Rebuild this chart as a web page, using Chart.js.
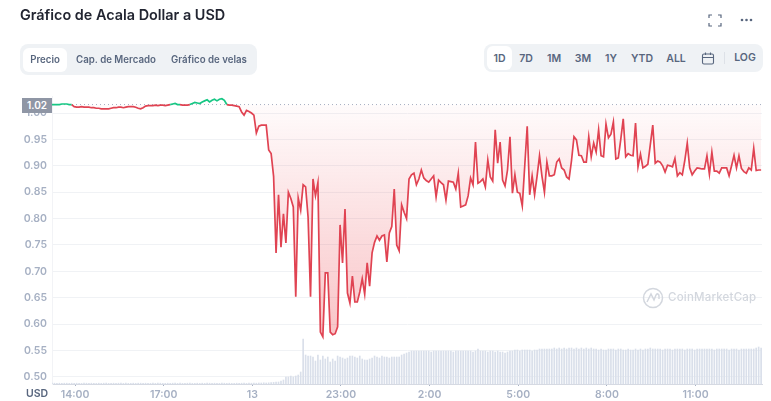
<!DOCTYPE html>
<html lang="es">
<head>
<meta charset="utf-8">
<title>Gráfico de Acala Dollar a USD</title>
<script src="https://cdn.jsdelivr.net/npm/chart.js@4/dist/chart.umd.min.js"></script>
<style>
    html, body { margin: 0; padding: 0; background: #fff; overflow: hidden; }
    body { width: 771px; height: 401px; position: relative; font-family: Inter, "Noto Sans", sans-serif; }
    #chart { position: absolute; left: 0; top: 0; }
    .abs { position: absolute; white-space: nowrap; }
    #title { left: 20px; top: 6px; font-size: 14.4px; line-height: 18px; font-weight: 600; color: #222531; }
    .bar { background: #eff2f5; border-radius: 8px; }
    .btn { transform: translateX(-50%); font-size: 10.5px; font-weight: 600; color: #58667e; line-height: 14px; }
    .tab { font-size: 9.7px; }
    .active { background: #fff; border-radius: 6px; }
    #lastPrice { left: 22px; top: 98px; width: 30px; height: 15px; background: #8f96a5; color: #fff; font-size: 10px; font-weight: 600; line-height: 15px; text-align: center; }
    #usd { left: 26px; top: 387px; font-size: 10.5px; font-weight: 600; color: #58667e; line-height: 13px; }
    #watermark { left: 642px; top: 287px; }
    #wmText { left: 668px; top: 289px; font-size: 11.5px; line-height: 17px; font-weight: 500; letter-spacing: .2px; color: #d3d7de; }
</style>
</head>
<body>
<canvas id="chart" width="771" height="401"></canvas>

<div id="title" class="abs">Gráfico de Acala Dollar a USD</div>

<svg class="abs" style="left:708px;top:14px" width="14" height="13" fill="none" stroke="#58667e" stroke-width="1.2">
    <path d="M1 4V1h3M10 1h3v3M13 9v3h-3M4 12H1V9"/>
</svg>
<svg class="abs" style="left:740px;top:18px" width="13" height="4" fill="#58667e">
    <circle cx="2" cy="2" r="1.3"/><circle cx="6.5" cy="2" r="1.3"/><circle cx="11" cy="2" r="1.3"/>
</svg>

<div class="abs bar" style="left:20px;top:44px;width:237px;height:31px"></div>
<div class="abs active" style="left:23px;top:48px;width:44px;height:24px"></div>
<div class="abs btn tab" style="left:45px;top:53px">Precio</div>
<div class="abs btn tab" style="left:116px;top:53px">Cap. de Mercado</div>
<div class="abs btn tab" style="left:209px;top:53px">Gráfico de velas</div>

<div class="abs bar" style="left:484px;top:44px;width:279px;height:28px"></div>
<div class="abs active" style="left:487px;top:46px;width:25px;height:24px"></div>
<div class="abs btn" style="left:499.5px;top:52px">1D</div>
<div class="abs btn" style="left:526px;top:52px">7D</div>
<div class="abs btn" style="left:554px;top:52px">1M</div>
<div class="abs btn" style="left:583px;top:52px">3M</div>
<div class="abs btn" style="left:611px;top:52px">1Y</div>
<div class="abs btn" style="left:642px;top:52px">YTD</div>
<div class="abs btn" style="left:676px;top:52px">ALL</div>
<svg class="abs" style="left:701px;top:52px" width="14" height="13" fill="none" stroke="#58667e" stroke-width="1.1">
    <rect x="1.5" y="2" width="11" height="10" rx="1.5"/><path d="M1.5 5.5h11M4.5 0.5v2.5M9.500 0.5v2.500"/>
</svg>
<div class="abs" style="left:724px;top:52px;width:1px;height:12px;background:#dde1e7"></div>
<div class="abs btn" style="left:745px;top:51px">LOG</div>

<svg id="watermark" class="abs" width="22" height="22" fill="none" stroke="#d3d7de" stroke-width="1.5">
    <circle cx="11" cy="11" r="9.500"/>
    <path d="M5 15l4-8 3 6 2-5c1-2 3-1 3 1v3"/>
</svg>
<div id="wmText" class="abs">CoinMarketCap</div>

<div id="lastPrice" class="abs">1.02</div>
<div id="usd" class="abs">USD</div>

<script>
// one value every 5 minutes
const startHour = 13.22;
const stepHours = 5 / 60;
const openPrice = 1.016;

const prices = [
    1.016,1.016,1.016,1.016,1.017,1.017,1.017,1.016,1.016,1.012,
    1.011,1.011,1.012,1.011,1.011,1.011,1.010,1.010,1.009,1.009,
    1.008,1.008,1.008,1.008,1.009,1.010,1.010,1.011,1.011,1.010,
    1.011,1.012,1.012,1.012,1.011,1.009,1.008,1.010,1.013,1.014,
    1.014,1.014,1.015,1.014,1.015,1.015,1.014,1.015,1.016,1.017,
    1.018,1.016,1.016,1.015,1.015,1.015,1.016,1.018,1.020,1.019,
    1.018,1.021,1.023,1.025,1.021,1.024,1.026,1.023,1.026,1.027,
    1.024,1.016,1.015,1.015,1.014,1.013,1.012,1.002,0.996,1.005,
    1.003,1.000,0.996,0.962,0.975,0.977,0.977,0.977,0.930,0.923,
    0.880,0.735,0.845,0.746,0.809,0.754,0.850,0.838,0.822,0.652,
    0.839,0.816,0.864,0.860,0.803,0.652,0.875,0.843,0.868,0.585,
    0.576,0.697,0.697,0.585,0.580,0.582,0.595,0.788,0.716,0.818,
    0.659,0.640,0.691,0.642,0.642,0.661,0.686,0.657,0.716,0.672,
    0.735,0.755,0.767,0.759,0.767,0.769,0.718,0.773,0.785,0.856,
    0.750,0.739,0.826,0.812,0.800,0.875,0.883,0.886,0.864,0.875,
    0.892,0.877,0.872,0.869,0.875,0.881,0.841,0.873,0.868,0.864,
    0.835,0.871,0.870,0.869,0.856,0.886,0.822,0.824,0.826,0.843,
    0.877,0.864,0.945,0.867,0.870,0.875,0.860,0.911,0.879,0.871,
    0.968,0.905,0.945,0.873,0.862,0.892,0.955,0.848,0.883,0.850,
    0.848,0.824,0.900,0.975,0.845,0.881,0.845,0.880,0.919,0.880,
    0.850,0.907,0.881,0.881,0.883,0.907,0.913,0.896,0.892,0.879,
    0.875,0.910,0.955,0.949,0.920,0.919,0.907,0.907,0.955,0.917,
    0.943,0.926,0.968,0.919,0.917,0.979,0.953,0.960,0.983,0.913,
    0.915,0.950,0.989,0.917,0.923,0.920,0.919,0.981,0.898,0.922,
    0.896,0.899,0.903,0.940,0.977,0.905,0.909,0.907,0.900,0.888,
    0.901,0.900,0.898,0.914,0.881,0.887,0.883,0.910,0.943,0.896,
    0.883,0.890,0.896,0.895,0.894,0.894,0.919,0.884,0.926,0.890,
    0.890,0.886,0.896,0.896,0.896,0.881,0.900,0.920,0.896,0.919,
    0.895,0.889,0.886,0.896,0.892,0.933,0.891,0.892,0.892
];

const volumes = [
    0.4,0.4,0.3,0.4,0.3,0.4,0.4,0.3,0.4,0.3,
    0.4,0.3,0.3,0.4,0.4,0.3,0.4,0.3,0.3,0.4,
    0.3,0.4,0.4,0.3,0.3,0.4,0.3,0.4,0.4,0.3,
    0.4,0.3,0.3,0.4,0.3,0.4,0.4,0.3,0.4,0.3,
    0.3,0.4,0.3,0.4,0.4,0.3,0.3,0.4,0.3,0.4,
    0.4,0.3,0.4,0.3,0.3,0.4,0.4,0.3,0.3,0.4,
    0.3,0.4,0.3,0.4,0.4,0.3,0.4,0.3,0.3,0.4,
    0.4,0.3,0.4,0.3,0.3,0.4,0.3,0.4,0.4,0.3,
    0.4,0.4,0.5,0.4,0.5,0.5,0.6,0.5,0.6,0.7,
    0.8,0.9,1.0,1.5,2.0,3.5,3.5,4.0,3.5,4.0,
    4.5,6.0,22.5,14.5,14.0,14.0,13.5,11.5,14.5,12.0,
    14.0,12.5,13.5,11.0,12.5,11.5,14.0,13.5,13.0,12.5,
    13.0,14.0,14.0,13.5,13.0,14.0,12.5,12.0,12.0,12.5,
    13.0,14.0,13.5,13.0,14.0,13.5,13.5,13.0,13.5,13.5,
    13.5,13.5,14.5,15.0,15.5,16.0,16.5,16.5,16.5,16.5,
    16.5,16.5,16.5,16.5,16.0,16.5,16.5,16.5,16.5,16.5,
    16.5,16.5,16.5,16.0,16.5,16.5,16.5,16.5,16.5,16.5,
    16.5,16.0,16.5,17.5,16.5,16.5,16.5,16.0,16.5,16.5,
    16.0,16.5,16.0,16.0,15.5,16.0,16.5,16.5,17.0,17.0,
    16.5,17.0,17.0,17.0,17.0,16.5,17.0,17.0,17.5,17.5,
    17.5,17.5,17.5,17.5,18.0,17.5,18.0,17.5,18.0,17.5,
    18.0,18.0,17.5,18.0,17.5,18.0,17.5,18.0,17.5,18.0,
    17.5,17.5,17.0,17.5,17.0,17.0,17.5,17.5,17.5,17.0,
    17.5,17.5,17.0,17.0,17.5,17.0,17.0,17.5,17.0,17.5,
    17.0,17.5,17.5,18.0,17.5,17.5,17.5,17.5,17.0,17.5,
    17.5,17.5,17.0,17.5,17.5,17.5,17.5,17.0,17.5,17.5,
    17.5,17.0,17.5,17.5,17.5,17.5,17.5,17.5,17.5,17.0,
    17.5,17.5,17.5,17.5,17.5,17.0,17.5,17.5,17.5,17.0,
    17.5,17.5,17.5,17.5,17.5,17.5,18.0,18.5,18.0
];

const yTicks = [0.50, 0.55, 0.60, 0.65, 0.70, 0.75, 0.80, 0.85, 0.90, 0.95, 1.00];
const xTickHours = [14, 17, 20, 23, 26, 29, 32, 35];
const xTickLabels = ['14:00', '17:00', '13', '23:00', '2:00', '5:00', '8:00', '11:00'];

const hourAt = i => startHour + i * stepHours;

const canvas = document.getElementById('chart');
const ctx = canvas.getContext('2d');

const redFill = ctx.createLinearGradient(0, 105, 0, 340);
redFill.addColorStop(0, 'rgba(234, 57, 67, 0.02)');
redFill.addColorStop(1, 'rgba(234, 57, 67, 0.30)');

new Chart(ctx, {
    data: {
        datasets: [
            { // precio
                type: 'line',
                data: prices.map((p, i) => ({ x: hourAt(i), y: p })),
                yAxisID: 'y',
                borderWidth: 1.7,
                borderColor: '#e04352',
                pointRadius: 0,
                tension: 0,
                fill: { target: { value: openPrice }, above: 'rgba(0,0,0,0)', below: redFill },
                segment: {
                    borderColor: c => (c.p0.parsed.y >= openPrice && c.p1.parsed.y >= openPrice) ? '#16c784' : '#e04352'
                },
                order: 1
            },
            { // linea punteada del precio de apertura
                type: 'line',
                data: [{ x: hourAt(0), y: openPrice }, { x: hourAt(prices.length - 1), y: openPrice }],
                yAxisID: 'y',
                borderWidth: 1,
                borderColor: '#a6b0c3',
                borderDash: [1, 3],
                pointRadius: 0,
                order: 2
            },
            { // volumen
                type: 'bar',
                data: volumes.map((v, i) => ({ x: hourAt(i), y: v })),
                yAxisID: 'yVol',
                backgroundColor: '#d9dfea',
                barThickness: 1,
                order: 3
            }
        ]
    },
    options: {
        responsive: false,
        animation: false,
        layout: { padding: { top: 96, right: 9, left: 0, bottom: 0 } },
        plugins: { legend: { display: false }, tooltip: { enabled: false } },
        scales: {
            x: {
                type: 'linear',
                offset: false,
                min: startHour,
                max: startHour + 24.03,
                afterBuildTicks: axis => { axis.ticks = xTickHours.map(h => ({ value: h })); },
                afterFit: axis => { axis.height = 17; },
                grid: { drawOnChartArea: false, tickLength: 2, color: '#a6b0c3', offset: false },
                border: { color: '#d5d9e2', dash: [1, 2] },
                ticks: {
                    autoSkip: false,
                    maxRotation: 0,
                    padding: 3,
                    color: '#a6b0c3',
                    font: { family: 'Inter', size: 10.5, weight: '600' },
                    callback: value => xTickLabels[xTickHours.indexOf(value)]
                }
            },
            y: {
                min: 0.4867,
                max: 1.0322,
                afterBuildTicks: axis => { axis.ticks = yTicks.map(v => ({ value: v })); },
                afterFit: axis => { axis.width = 52; },
                grid: { color: '#f0f2f5', drawTicks: false },
                border: { color: '#f2f3f6' },
                ticks: {
                    padding: 5,
                    color: '#a6b0c3',
                    font: { family: 'Inter', size: 10.5, weight: '600' },
                    callback: value => value.toFixed(2)
                }
            },
            yVol: {
                display: false,
                min: 0,
                max: 144
            }
        }
    }
});
</script>
</body>
</html>
